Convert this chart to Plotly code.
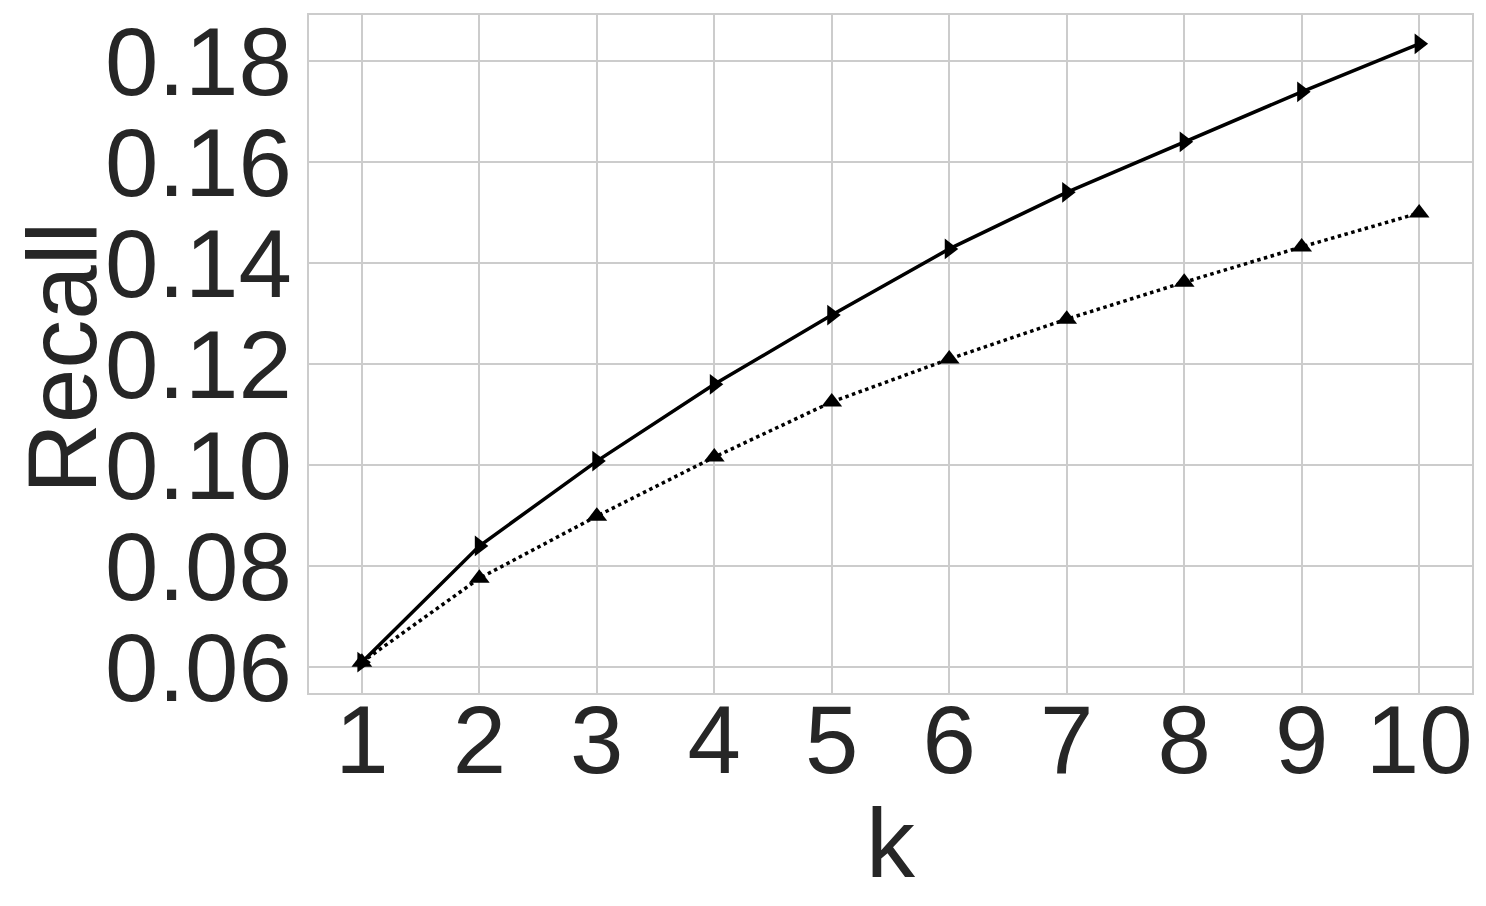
import plotly.graph_objects as go

k = [1, 2, 3, 4, 5, 6, 7, 8, 9, 10]
recall_solid = [0.061, 0.084, 0.1008, 0.116, 0.1297, 0.1428, 0.154, 0.164, 0.1739, 0.1834]
recall_dotted = [0.061, 0.0776, 0.0899, 0.1016, 0.1125, 0.121, 0.1289, 0.1362, 0.1432, 0.1499]
y_ticks = [0.06, 0.08, 0.10, 0.12, 0.14, 0.16, 0.18]

text_color = '#262626'
grid_color = '#cccccc'

fig = go.Figure()
fig.add_trace(go.Scatter(
    x=k, y=recall_dotted, mode='lines+markers',
    line=dict(color='black', width=3.5, dash='dot'),
    marker=dict(symbol='triangle-up', size=18, color='black'),
))
fig.add_trace(go.Scatter(
    x=k, y=recall_solid, mode='lines+markers',
    line=dict(color='black', width=3.5),
    marker=dict(symbol='triangle-right', size=18, color='black'),
))

# page body adds an 8px offset, so the figure is a bit smaller
fig.update_layout(
    width=1478, height=898,
    margin=dict(l=301, r=14, t=7, b=213),
    paper_bgcolor='white', plot_bgcolor='white',
    showlegend=False,
    font=dict(family='Arial, Liberation Sans, sans-serif', size=96, color=text_color),
)
fig.update_xaxes(
    range=[0.55, 10.45], tickvals=k, ticktext=[str(v) for v in k],
    showgrid=True, gridcolor=grid_color, gridwidth=2,
    showline=True, linecolor=grid_color, linewidth=2, mirror=True,
    zeroline=False, ticks='', automargin=False, ticklabelstandoff=-37,
    ticklabeloverflow='allow',
)
fig.update_yaxes(
    range=[0.0549, 0.1891], tickvals=y_ticks, ticktext=[f'{v:.2f}' for v in y_ticks],
    showgrid=True, gridcolor=grid_color, gridwidth=2,
    showline=True, linecolor=grid_color, linewidth=2, mirror=True,
    zeroline=False, ticks='', automargin=False, ticklabelstandoff=-4,
    ticklabeloverflow='allow',
)

# axis titles
fig.add_annotation(text='Recall', xref='paper', yref='paper', x=-0.2124, y=0.494,
                   textangle=-90, showarrow=False, xanchor='center', yanchor='middle',
                   font=dict(size=98, color=text_color))
fig.add_annotation(text='k', xref='paper', yref='paper', x=0.5, y=-0.221,
                   showarrow=False, xanchor='center', yanchor='middle',
                   font=dict(size=98, color=text_color))

fig.write_html('out.html')
